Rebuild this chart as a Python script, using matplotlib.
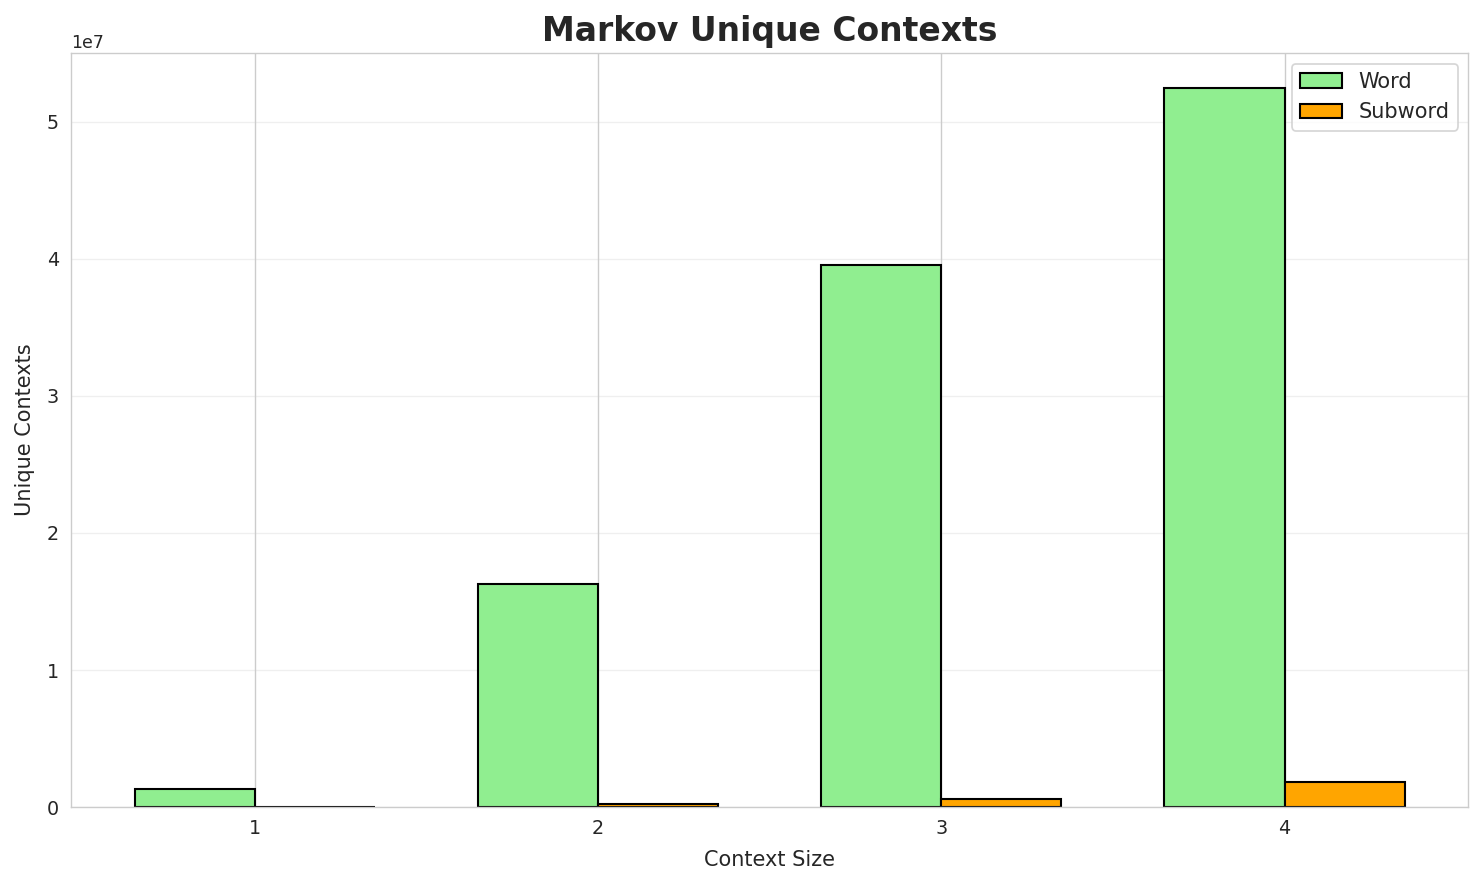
import numpy as np
import matplotlib.pyplot as plt
import seaborn as sns

sns.set_style("whitegrid")

# context sizes and unique context counts
context_sizes = [1, 2, 3, 4]
word_contexts = [1.31e6, 16.28e6, 39.56e6, 52.42e6]
subword_contexts = [0.01e6, 0.22e6, 0.58e6, 1.82e6]

x = np.arange(len(context_sizes)) + 1
width = 0.35

fig, ax = plt.subplots(figsize=(11.864, 7.08), dpi=125)
ax.bar(x - width / 2, word_contexts, width, label='Word', color='lightgreen', edgecolor='black', linewidth=1.2)
ax.bar(x + width / 2, subword_contexts, width, label='Subword', color='orange', edgecolor='black', linewidth=1.2)

ax.set_xticks(x)
ax.set_xticklabels([str(c) for c in context_sizes], fontsize=11)
ax.tick_params(axis='y', labelsize=11)
ax.set_xlabel('Context Size', fontsize=12, labelpad=7)
ax.set_ylabel('Unique Contexts', fontsize=12, labelpad=7)
ax.set_title('Markov Unique Contexts', fontsize=19, fontweight='bold', pad=7)
ax.legend(loc='upper right', fontsize=12)
ax.grid(axis='y', alpha=0.3)
ax.set_ylim(0, 5.5e7)

plt.subplots_adjust(left=0.048, right=0.99, top=0.94, bottom=0.088)
plt.savefig('out.png', dpi=125)
plt.close()
